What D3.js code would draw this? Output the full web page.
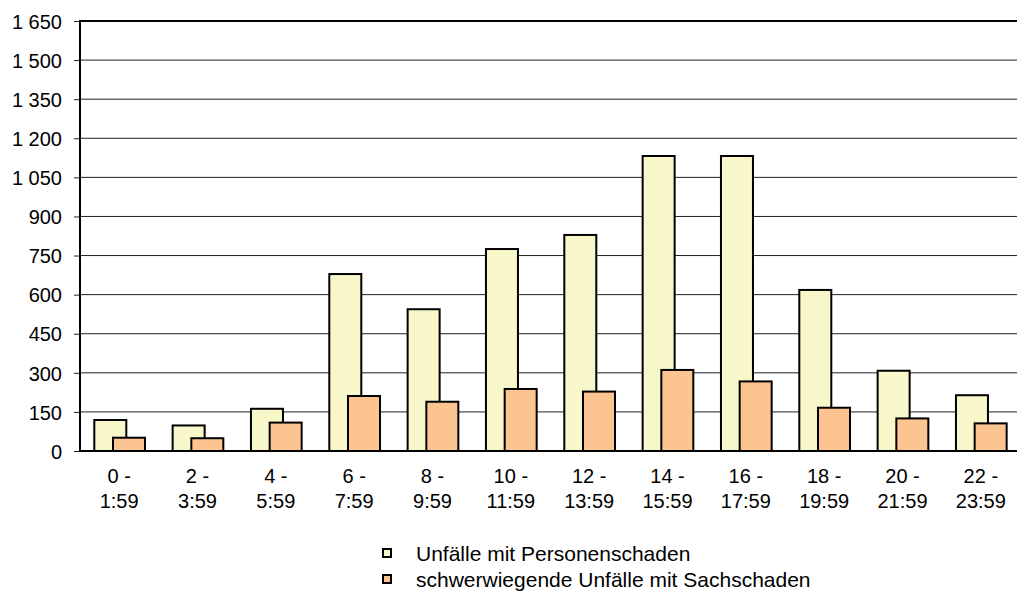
<!DOCTYPE html>
<html>
<head>
<meta charset="utf-8">
<script src="https://cdnjs.cloudflare.com/ajax/libs/d3/7.8.5/d3.min.js"></script>
<style>
    body { margin: 0; background: #fff; }
    svg text { font-family: "Liberation Sans", Arial, sans-serif; font-size: 20px; fill: #000; }
</style>
</head>
<body>
<svg id="chart" width="1017" height="596"></svg>
<script>
    const categories = ["0 -|1:59", "2 -|3:59", "4 -|5:59", "6 -|7:59", "8 -|9:59", "10 -|11:59",
        "12 -|13:59", "14 -|15:59", "16 -|17:59", "18 -|19:59", "20 -|21:59", "22 -|23:59"];
    const personenschaden = [119, 98, 162, 679, 544, 775, 829, 1132, 1132, 618, 308, 214];
    const sachschaden = [51, 49, 109, 211, 189, 238, 228, 311, 267, 166, 125, 106];
    const yTicks = [0, 150, 300, 450, 600, 750, 900, 1050, 1200, 1350, 1500, 1650];
    const seriesNames = ["Unfälle mit Personenschaden", "schwerwiegende Unfälle mit Sachschaden"];
    const colors = ["#f7f7c9", "#fbc491"];

    const plotL = 80, plotR = 1020, plotT = 21, plotB = 451;
    const svg = d3.select('#chart');

    const x = d3.scaleBand().domain(categories).range([plotL, plotR]);
    const y = d3.scaleLinear().domain([0, 1650]).range([plotB, plotT]);

    // gridlines
    svg.append('g')
        .selectAll('line')
        .data(yTicks.filter(d => d > 0))
        .join('line')
        .attr('x1', plotL).attr('x2', plotR)
        .attr('y1', d => y(d)).attr('y2', d => y(d))
        .attr('stroke', '#222').attr('stroke-width', 1);

    // y axis
    const yAxis = svg.append('g')
        .attr('transform', `translate(${plotL},0)`)
        .call(d3.axisLeft(y).tickValues(yTicks).tickSize(6).tickPadding(12)
            .tickFormat(d => d3.format(',')(d).replace(',', ' ')));
    yAxis.select('.domain').remove();
    yAxis.selectAll('.tick line').attr('stroke', '#222');
    yAxis.selectAll('text').attr('font-size', 20).attr('font-family', '"Liberation Sans", Arial, sans-serif')
        .attr('dy', '0.36em');

    // bars
    const barW = 32, offs = [14.3, 33];
    [personenschaden, sachschaden].forEach((vals, s) => {
        svg.append('g')
            .selectAll('rect')
            .data(vals)
            .join('rect')
            .attr('x', (d, i) => x(categories[i]) + offs[s])
            .attr('y', d => y(d))
            .attr('width', barW)
            .attr('height', d => y(0) - y(d))
            .attr('fill', colors[s])
            .attr('stroke', '#000')
            .attr('stroke-width', 2);
    });

    // frame lines
    svg.append('line').attr('x1', plotL).attr('x2', plotR).attr('y1', plotT).attr('y2', plotT)
        .attr('stroke', '#000').attr('stroke-width', 2);
    svg.append('line').attr('x1', plotL).attr('x2', plotL).attr('y1', plotT - 1).attr('y2', plotB + 1)
        .attr('stroke', '#000').attr('stroke-width', 2);
    svg.append('line').attr('x1', plotL).attr('x2', plotR).attr('y1', plotB).attr('y2', plotB)
        .attr('stroke', '#000').attr('stroke-width', 2);

    // x labels
    const xl = svg.append('g')
        .selectAll('text')
        .data(categories)
        .join('text')
        .attr('x', d => x(d) + x.bandwidth() / 2)
        .attr('y', 483)
        .attr('text-anchor', 'middle');
    xl.each(function(d) {
        const parts = d.split('|');
        d3.select(this).selectAll('tspan').data(parts).join('tspan')
            .attr('x', x(d) + x.bandwidth() / 2)
            .attr('dy', (p, i) => i === 0 ? 0 : 25)
            .text(p => p);
    });

    // legend
    const lg = svg.append('g');
    seriesNames.forEach((name, i) => {
        lg.append('rect').attr('x', 383).attr('y', 549 + i * 26).attr('width', 8).attr('height', 8)
            .attr('fill', colors[i]).attr('stroke', '#000').attr('stroke-width', 2);
        lg.append('text').attr('x', 416).attr('y', 561 + i * 26).style('font-size', '21px').text(name);
    });
</script>
</body>
</html>
